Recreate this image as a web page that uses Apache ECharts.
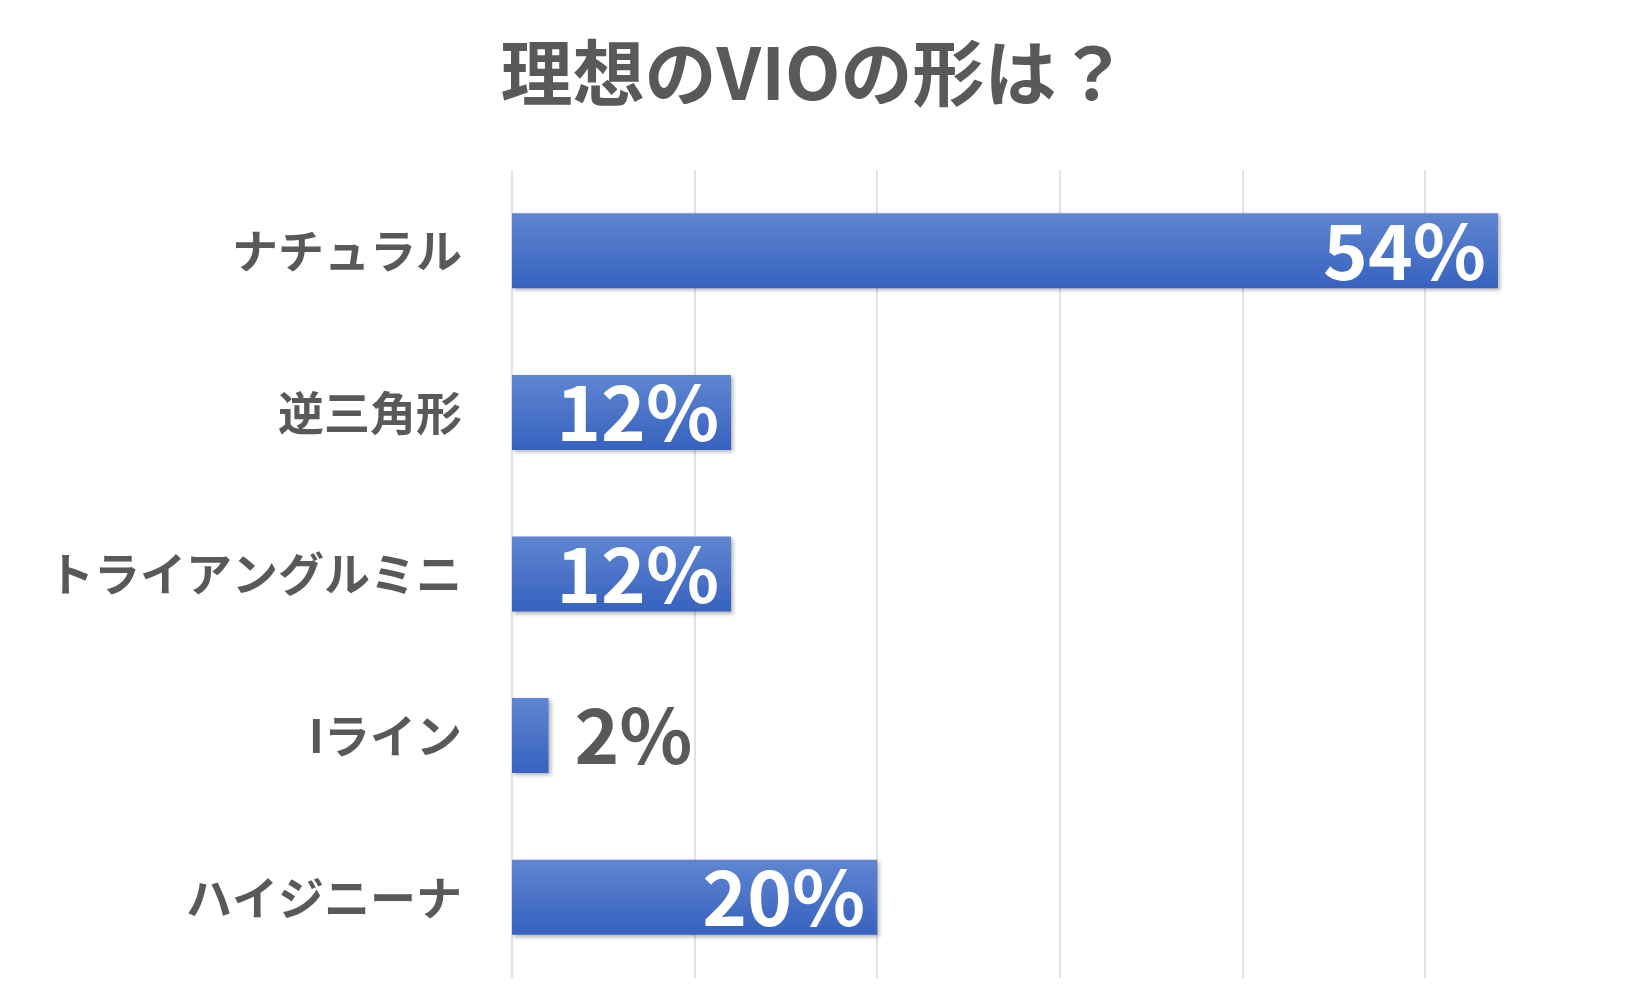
<!DOCTYPE html>
<html><head><meta charset="utf-8">
<script src="https://cdn.jsdelivr.net/npm/echarts@6/dist/echarts.min.js"></script>
<style>html,body{margin:0;background:#fff}#c{width:1629px;height:1004px}</style>
</head><body><div id="c"></div>
<script>
const categories = ['ナチュラル','逆三角形','トライアングルミニ','Iライン','ハイジニーナ'];
const values = [54,12,12,2,20];
const titleText = '理想のVIOの形は？';
const font = '"Noto Sans CJK JP","Noto Sans",sans-serif';
const chart = echarts.init(document.getElementById('c'));
chart.setOption({
  backgroundColor:'#fff',
  title:{text:titleText,left:'center',top:32,textStyle:{fontFamily:font,fontSize:72,fontWeight:'bold',color:'#595959'}},
  grid:{left:512,right:1629-1571,top:170,bottom:1004-978},
  xAxis:{type:'value',min:0,max:58,interval:10,axisLabel:{show:false},axisLine:{show:false},axisTick:{show:false},
    splitLine:{showMaxLine:false,lineStyle:{color:'#d9d9d9',width:1.5}}},
  yAxis:{type:'category',inverse:true,data:categories,axisLine:{show:false},axisTick:{show:false},
    axisLabel:{fontFamily:font,fontSize:46,fontWeight:'bold',color:'#595959',margin:50}},
  series:[{type:'bar',barWidth:75,
    data:values.map(v=>({value:v,label:v<5?{position:'right',color:'#595959',distance:26}:{}})),
    itemStyle:{color:new echarts.graphic.LinearGradient(0,0,0,1,[{offset:0,color:'#5f86d2'},{offset:1,color:'#3762be'}]),
      shadowColor:'rgba(0,0,0,0.3)',shadowBlur:4,shadowOffsetX:2,shadowOffsetY:2},
    label:{show:true,position:'insideRight',distance:12,formatter:'{c}%',fontFamily:font,fontSize:76,fontWeight:'bold',color:'#fff'}}]
});
</script></body></html>
